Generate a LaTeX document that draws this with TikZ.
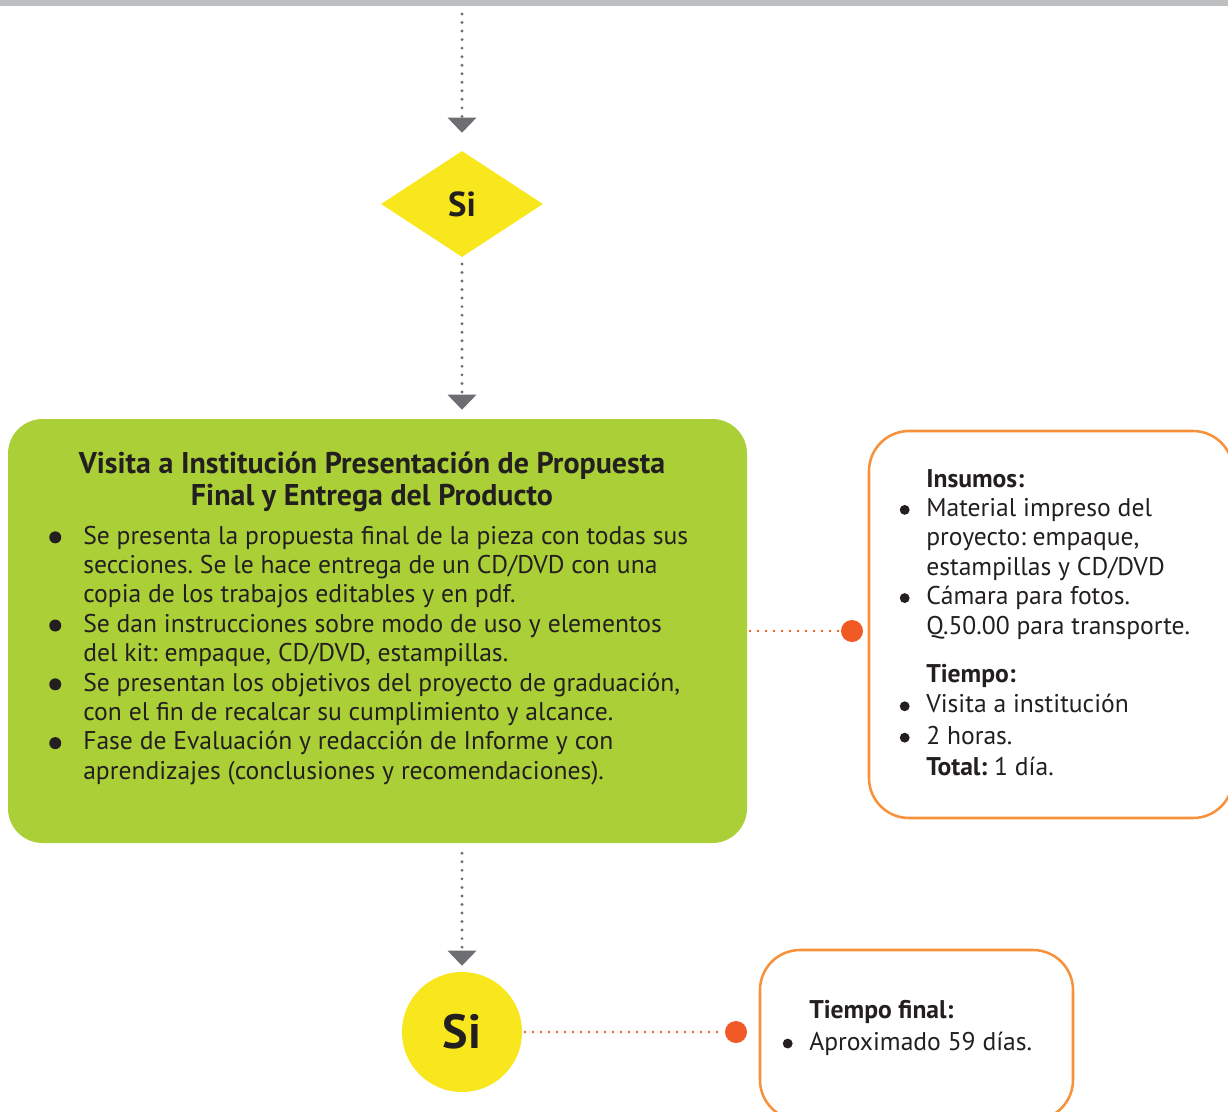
\documentclass[tikz,border=0pt]{standalone}
\usepackage{fontspec}
\setmainfont{PT Sans}
\usetikzlibrary{positioning,arrows.meta,shapes.geometric}
\definecolor{bargray}{HTML}{BDBEC0}
\definecolor{arrowgray}{HTML}{6D6E71}
\definecolor{sunyellow}{HTML}{F8E71C}
\definecolor{limegreen}{HTML}{ABD037}
\definecolor{boxorange}{HTML}{F7923A}
\definecolor{dotorange}{HTML}{F15A24}
\definecolor{ink}{HTML}{231F20}
\frenchspacing
\newcommand\bigbul{\makebox[25.5pt][l]{\tikz[baseline=-5pt]\fill[ink] (4.5pt,0) circle (4.5pt);}}
\newcommand\smallbul{\makebox[19.9pt][l]{\tikz[baseline=-4.9pt]\fill[ink] (3.7pt,0) circle (3.7pt);}}
\tikzset{decision/.style={diamond,fill=sunyellow,minimum width=121.5pt,minimum height=79.5pt,inner sep=0pt,font=\bfseries\fontsize{26}{28}\selectfont,text=ink},
finish/.style={circle,fill=sunyellow,minimum size=90pt,inner sep=0pt,font=\bfseries\fontsize{36}{38}\selectfont,text=ink},
task/.style={fill=limegreen,rounded corners=26pt,minimum width=554.25pt,minimum height=318pt,inner sep=0pt},
notebox/.style={draw=boxorange,line width=1.9pt,rounded corners=30pt,inner sep=0pt},
pin/.style={circle,fill=dotorange,minimum size=16.5pt,inner sep=0pt},
txt/.style={inner sep=0pt,text=ink,font=\fontsize{19.2}{22.05}\selectfont},
flow/.style={draw=arrowgray,line width=2.4pt,line cap=round,dash pattern=on 0pt off 6.4pt,-{Triangle[length=11.25pt,width=21pt]}},
link/.style={draw=dotorange,line width=2.1pt,line cap=round,dash pattern=on 0pt off 6pt}}
\begin{document}
\begin{tikzpicture}[x=0.75pt,y=-0.75pt]
\clip (0,0) rectangle (1228,1111);
\fill[white] (0,0) rectangle (1228,1111);
\fill[bargray] (0,0) rectangle (1228,6);
\coordinate (top) at (462,14);
\node[decision] (q1) at (462,204) {Si};
\node[task] (visit) at (377.5,631) {};
\node[finish] (end) at (462,1032) {Si};
\node[notebox,minimum width=273pt,minimum height=290.25pt] (needs) at (1051,624.5) {};
\node[notebox,minimum width=234.75pt,minimum height=127.5pt] (total) at (916.5,1035) {};
\node[pin] (p1) at (852,631) {};
\node[pin] (p2) at (736,1032) {};
% textos
\node[txt,align=center,font=\bfseries\fontsize{22.5}{24}\selectfont] (visitt) at (372,482) {Visita a Institución Presentación de Propuesta\\Final y Entrega del Producto};
\node[txt,anchor=base west] (visitb) at (49,544) {\begin{tabular}[t]{@{}l@{}l@{}}
\bigbul & Se presenta la propuesta final de la pieza con todas sus\\
 & secciones. Se le hace entrega de un CD/DVD con una\\
 & copia de los trabajos editables y en pdf.\\
\bigbul & Se dan instrucciones sobre modo de uso y elementos\\
 & del kit: empaque, CD/DVD, estampillas.\\
\bigbul & Se presentan los objetivos del proyecto de graduación,\\
 & con el fin de recalcar su cumplimiento y alcance.\\
\bigbul & Fase de Evaluación y redacción de Informe y con\\
 & aprendizajes (conclusiones y recomendaciones).
\end{tabular}};
\node[txt,anchor=base west] (needst) at (899.5,487) {\begin{tabular}[t]{@{}l@{}l@{}}
 & \textbf{Insumos:}\\
\smallbul & Material impreso del\\
 & proyecto: empaque,\\
 & estampillas y CD/DVD\\
\smallbul & Cámara para fotos.\\
 & Q.50.00 para transporte.\\[14pt]
 & \textbf{Tiempo:}\\[1pt]
\smallbul & Visita a institución\\[1.5pt]
\smallbul & 2 horas.\\[1.5pt]
 & \textbf{Total:} 1 día.
\end{tabular}};
\node[txt,anchor=base west] (totalt) at (782.5,1018) {\begin{tabular}[t]{@{}l@{}l@{}}
 & \textbf{Tiempo final:}\\[2pt]
\smallbul & Aproximado 59 días.
\end{tabular}};
% conectores
\draw[flow,shorten >=13.5pt] (top)--(q1);
\draw[flow,shorten <=5pt,shorten >=6.75pt] (q1)--(q1|-visit.north);
\draw[flow,shorten <=7.5pt,shorten >=4.5pt] (end|-visit.south)--(end);
\draw[link,shorten <=2pt] (visit.east|-p1)--(p1);
\draw[link,shorten <=2pt] (end)--(p2);
\end{tikzpicture}
\end{document}
